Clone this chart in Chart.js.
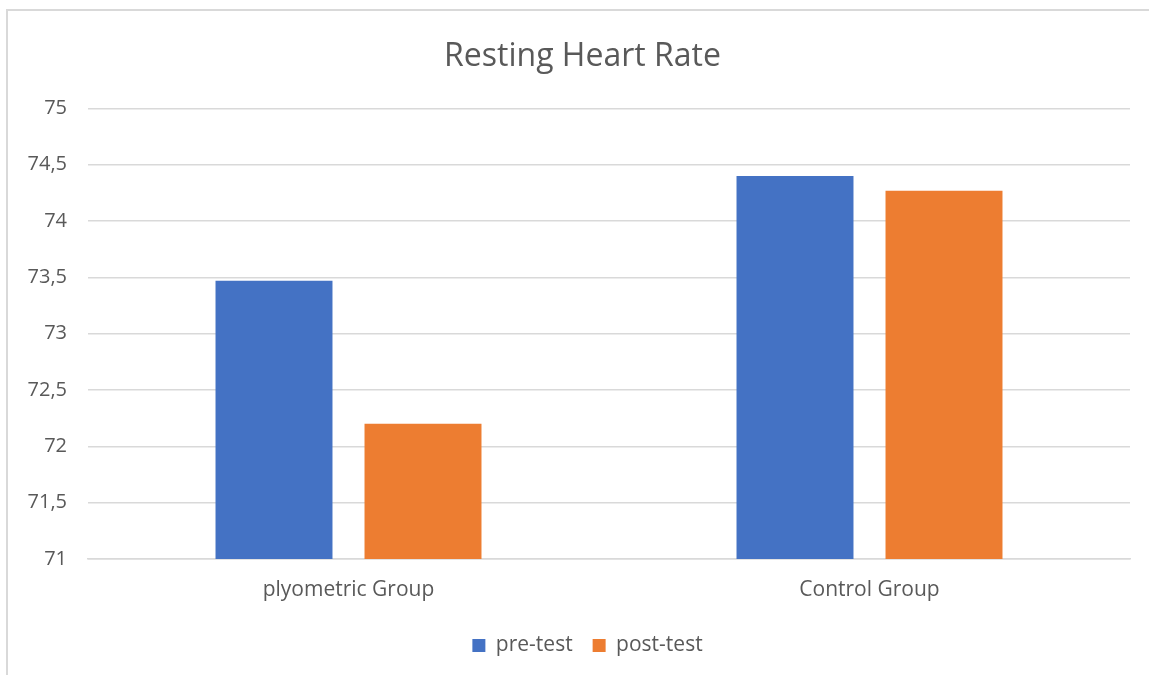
<!DOCTYPE html>
<html>
<head>
<meta charset="utf-8">
<script src="https://cdn.jsdelivr.net/npm/chart.js@4"></script>
<style>
  html, body { margin: 0; padding: 0; background: #fff; }
  #wrap { position: relative; width: 1149px; height: 675px; overflow: hidden; }
  #frame { position: absolute; left: 6px; top: 9px; width: 1200px; height: 700px;
           border-left: 2px solid #d9d9d9; border-top: 2px solid #d9d9d9; box-sizing: border-box; }
  canvas { position: absolute; left: 0; top: 0; }
</style>
</head>
<body>
<div id="wrap">
  <div id="frame"></div>
  <canvas id="c" width="1149" height="675"></canvas>
</div>
<script>
const categories = ["plyometric Group", "Control Group"];
const seriesNames = ["pre-test", "post-test"];
const preTest = [73.47, 74.40];
const postTest = [72.20, 74.27];
const yMin = 71, yMax = 75, yStep = 0.5;

const FONT = "'Open Sans', 'Noto Sans', sans-serif";
const TXT = "#595959";

// shift title/legend horizontally to match reference centring
const shiftBlocks = {
  id: 'shiftBlocks',
  afterLayout(chart) {
    if (chart.titleBlock) chart.titleBlock.left = 35;
    if (chart.legend) chart.legend.left = 45;
  }
};

new Chart(document.getElementById('c'), {
  type: 'bar',
  data: {
    labels: categories,
    datasets: [
      { label: seriesNames[0], data: preTest, backgroundColor: '#4472C4',
        categoryPercentage: 0.572, barPercentage: 0.785 },
      { label: seriesNames[1], data: postTest, backgroundColor: '#ED7D31',
        categoryPercentage: 0.572, barPercentage: 0.785 }
    ]
  },
  plugins: [shiftBlocks],
  options: {
    responsive: false,
    animation: false,
    layout: { padding: { left: 0, right: 19, top: 0, bottom: 9 } },
    plugins: {
      title: { display: true, text: 'Resting Heart Rate', color: TXT,
               font: { family: FONT, size: 32, weight: 'normal' }, padding: { top: 38, bottom: 32 } },
      legend: { position: 'bottom',
        labels: { color: TXT, boxWidth: 13, boxHeight: 13, padding: 20,
                  font: { family: FONT, size: 21 } } },
      tooltip: { enabled: false }
    },
    scales: {
      x: {
        grid: { display: false, drawTicks: false },
        border: { display: true, color: '#d9d9d9', width: 1.5 },
        ticks: { color: TXT, padding: 18, font: { family: FONT, size: 21 } },
        afterFit: s => { s.height = 56; }
      },
      y: {
        min: yMin, max: yMax,
        grid: { color: '#d9d9d9', lineWidth: 1.5, drawTicks: false },
        border: { display: false },
        ticks: { stepSize: yStep, color: TXT, padding: 21, font: { family: FONT, size: 20 } ,
                 callback: v => String(v).replace('.', ',') },
        afterFit: s => { s.width = 88; }
      }
    }
  }
});
</script>
</body>
</html>
